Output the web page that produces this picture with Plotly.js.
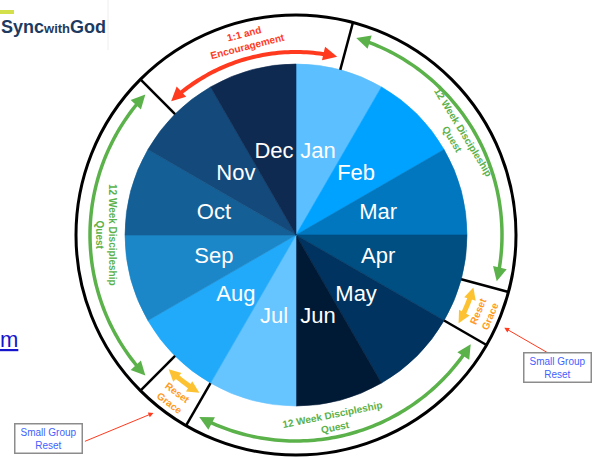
<!DOCTYPE html>
<html><head><meta charset="utf-8">
<script src="https://cdn.plot.ly/plotly-3.0.1.min.js"></script>
<style>html,body{margin:0;padding:0;background:#fff}#chart{width:599px;height:459px}</style>
</head><body><div id="chart"></div>
<script>
// ---- data ----
const months = ['Jan','Feb','Mar','Apr','May','Jun','Jul','Aug','Sep','Oct','Nov','Dec'];
const monthShare = [1,1,1,1,1,1,1,1,1,1,1,1];
const monthColors = ['#5CBFFF','#00A2FF','#0077BF','#004F82','#00335F','#001A36',
                     '#66C4FF','#22AAFA','#1B86C8','#145F96','#134A7B','#0F2A51'];
const phaseNames = ['12 Week Discipleship<br>Quest','Reset<br>Grace','12 Week Discipleship<br>Quest',
                    'Reset<br>Grace','12 Week Discipleship<br>Quest','1:1 and<br>Encouragement'];
const phaseKinds = ['quest','reset','quest','reset','quest','one'];
const phaseStart = [0.5, 3.5, 4.0, 7.0, 7.5, 10.5];   // months from 1 Jan
const phaseEnd   = [3.5, 4.0, 7.0, 7.5, 10.5, 12.5];
const phaseLabelAt = [1.95, 3.76, 5.62, 7.23, 9.0, 11.52]; // where each phase name sits
const calloutText = ['Small Group<br>Reset','Small Group<br>Reset'];
const calloutAt = [3.8, 7.29];                         // month position pointed at

// ---- styles ----
const PIE_R = 171, RING_R = 220, LABEL_R = 85;
const kindStyle = {
  quest: {color:'#5BB14A', text:'#5BB14A', r:206, w:3.5, head:14, gap:2.0, tr:190},
  reset: {color:'#FDC232', text:'#FF9A22', r:185, w:5,   head:12, gap:1.5, tr:204},
  one:   {color:'#FF3A1E', text:'#FF3A1E', r:183, w:4,   head:14, gap:2.0, tr:201}
};
const total = monthShare.reduce((a,b)=>a+b,0);
const degPerMonth = 360/12;

// pie slices
let cum = 0;
const sliceTheta = [], sliceWidth = [];
monthShare.forEach(s => { sliceTheta.push((cum + s/2)*360/total); sliceWidth.push(s*360/total); cum += s; });

const traces = [];
traces.push({type:'barpolar', r: monthShare.map(()=>PIE_R), theta: sliceTheta, width: sliceWidth,
  marker:{color: monthColors, line:{color: monthColors, width:0.6}}, hoverinfo:'skip'});
traces.push({type:'scatterpolar', mode:'text', r: months.map(()=>LABEL_R), theta: sliceTheta, text: months,
  textfont:{color:'#ffffff', size:22, family:'Liberation Sans, Arial, sans-serif'}, hoverinfo:'skip', cliponaxis:false});

// dividers
const dR = [], dT = [];
phaseStart.forEach(s => { const a = s*degPerMonth; dR.push(PIE_R, RING_R, null); dT.push(a, a, null); });
traces.push({type:'scatterpolar', mode:'lines', r:dR, theta:dT, line:{color:'#000', width:2.5}, connectgaps:false, hoverinfo:'skip'});

// phase arrows
const annotations = [];
phaseKinds.forEach((k,i) => {
  const st = kindStyle[k];
  const a0 = phaseStart[i]*degPerMonth + st.gap, a1 = phaseEnd[i]*degPerMonth - st.gap;
  const back = st.head*0.6/st.r*180/Math.PI;
  const b0 = a0 + back, b1 = a1 - back;
  const n = Math.max(2, Math.ceil(Math.abs(b1-b0)));
  const rr = [], tt = [];
  for (let j=0;j<=n;j++){ rr.push(st.r); tt.push(b0 + (b1-b0)*j/n); }
  traces.push({type:'scatterpolar', mode:'lines', r:rr, theta:tt, line:{color:st.color, width:st.w}, hoverinfo:'skip'});
  traces.push({type:'scatterpolar', mode:'markers', r:[st.r, st.r], theta:[a0, a1],
    marker:{symbol:'arrow-up', size:st.head, color:st.color, angle:[a0-90, a1+90], line:{width:0}},
    hoverinfo:'skip', cliponaxis:false});
  // label
  const mid = phaseLabelAt[i]*degPerMonth;
  const m = ((mid % 360) + 360) % 360;
  const ta = (m > 90 && m <= 270) ? m - 180 : (m > 270 ? m - 360 : m);
  const rad = mid*Math.PI/180;
  annotations.push({xref:'x', yref:'y', x: st.tr*Math.sin(rad), y: st.tr*Math.cos(rad), text: phaseNames[i],
    showarrow:false, textangle: ta, font:{color: st.text, size:10, weight:'bold', family:'Liberation Sans, Arial, sans-serif'}});
});

// dummy cartesian trace so the helper axes exist
traces.push({type:'scatter', x:[0], y:[0], mode:'markers', marker:{opacity:0}, hoverinfo:'skip', xaxis:'x', yaxis:'y'});

// callouts
const calloutBox = [[557.5, 367.5], [48, 438]];          // box centres in px
const calloutTail = [[52, 30], [-70, 29]];               // arrow tail offsets in px
calloutAt.forEach((mth,i) => {
  const rad = mth*degPerMonth*Math.PI/180, rr = 228;
  annotations.push({xref:'x', yref:'y', x: rr*Math.sin(rad), y: rr*Math.cos(rad), text:'', showarrow:true,
    ax: calloutTail[i][0], ay: calloutTail[i][1], arrowcolor:'#FF3A1E', arrowwidth:1, arrowhead:2, arrowsize:1});
  annotations.push({xref:'paper', yref:'paper', x: calloutBox[i][0]/599, y: 1 - calloutBox[i][1]/459,
    xanchor:'center', yanchor:'middle', text: calloutText[i], showarrow:false, align:'center',
    font:{color:'#3F5FFF', size:10, family:'Liberation Sans, Arial, sans-serif'},
    bordercolor:'#8C8C8C', borderwidth:1.5, borderpad:2, bgcolor:'#fff', width:62});
});

// logo & cut-off link
annotations.push({xref:'paper', yref:'paper', x:0, y:1-27/459, xanchor:'left', yanchor:'middle', showarrow:false,
  text:"Sync<span style='font-size:13px'>with</span>God", font:{color:'#1D3B61', size:18, weight:'bold', family:'Liberation Sans, Arial, sans-serif'}, borderpad:0});
annotations.push({xref:'paper', yref:'paper', x:-0.002, y:1-339/459, xanchor:'left', yanchor:'middle', showarrow:false,
  text:"<u>m</u>", font:{color:'#1515CC', size:22, family:'Liberation Sans, Arial, sans-serif'}, borderpad:0});

const shapes = [
  {type:'rect', xref:'paper', yref:'paper', x0:0, x1:14/599, y0:1-14/459, y1:1-10/459, fillcolor:'#D4E04A', line:{width:0}},
  {type:'line', xref:'paper', yref:'paper', x0:108/599, x1:108/599, y0:1, y1:1-50/459, line:{color:'#EEEEEE', width:1}}
];

const dom = {x:[76/599, 516/599], y:[4/459, 444/459]};
const layout = {
  width:599, height:459, margin:{l:0,r:0,t:0,b:0}, paper_bgcolor:'#fff', plot_bgcolor:'rgba(0,0,0,0)', showlegend:false,
  polar:{domain:dom, bgcolor:'rgba(0,0,0,0)', barmode:'overlay',
    radialaxis:{visible:false, range:[0, RING_R]},
    angularaxis:{direction:'clockwise', rotation:90, showticklabels:false, ticks:'', showgrid:false,
      showline:true, linecolor:'#000', linewidth:3}},
  xaxis:{domain:dom.x, range:[-220,220], visible:false, fixedrange:true},
  yaxis:{domain:dom.y, range:[-220,220], visible:false, fixedrange:true},
  annotations, shapes
};
Plotly.newPlot('chart', traces, layout, {displayModeBar:false, staticPlot:true});
</script></body></html>
